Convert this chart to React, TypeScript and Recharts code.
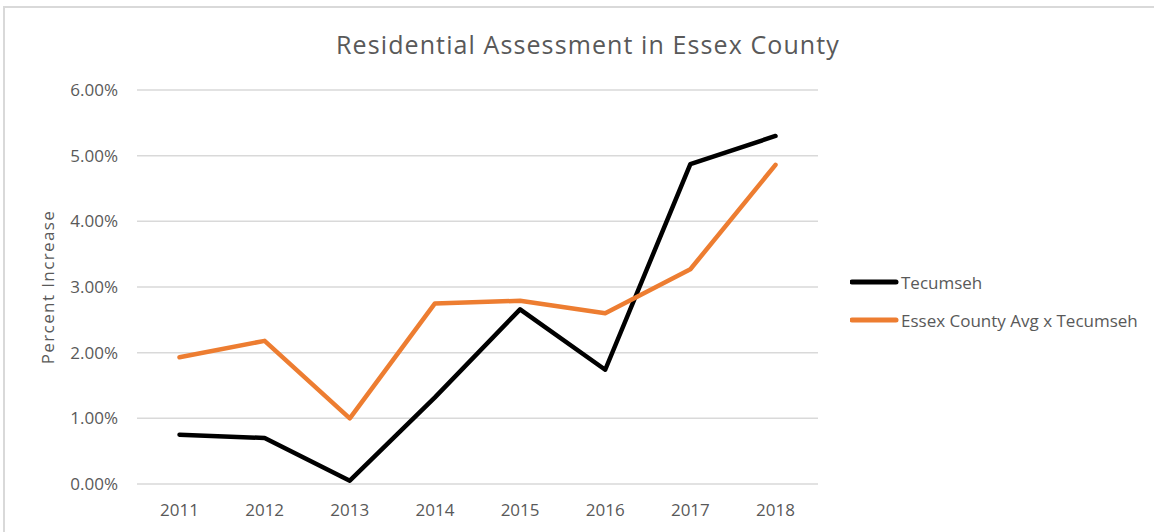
import { LineChart, Line, XAxis, YAxis, CartesianGrid, Legend } from "recharts";

// values (percent)
const years = ["2011", "2012", "2013", "2014", "2015", "2016", "2017", "2018"];
const tecumseh = [0.75, 0.7, 0.05, 1.32, 2.66, 1.74, 4.87, 5.3];
const essexAvg = [1.93, 2.18, 1.0, 2.75, 2.79, 2.6, 3.27, 4.86];
const yTicks = [0, 1, 2, 3, 4, 5, 6];

const chartData = years.map((year, i) => ({
  year,
  tecumseh: tecumseh[i],
  essex: essexAvg[i],
}));

const FONT = "'Open Sans', sans-serif";
const GREY = "#595959";

const seriesInfo = [
  { key: "tecumseh", name: "Tecumseh", color: "#000000" },
  { key: "essex", name: "Essex County Avg x Tecumseh", color: "#ED7D31" },
];

function LegendContent() {
  return (
    <div style={{ fontFamily: FONT, fontSize: 17, color: GREY }}>
      {seriesInfo.map((s) => (
        <div key={s.key} style={{ display: "flex", alignItems: "center", height: 38 }}>
          <svg width={50} height={10} style={{ display: "block" }}>
            <line x1={2} y1={5} x2={46} y2={5} stroke={s.color} strokeWidth={5} strokeLinecap="round" />
          </svg>
          <span style={{ marginLeft: 1 }}>{s.name}</span>
        </div>
      ))}
    </div>
  );
}

function AxisTitle(props: any) {
  const vb = props.viewBox || { x: 0, y: 0, height: 0 };
  const cy = vb.y + vb.height / 2;
  const cx = 47;
  return (
    <text
      x={cx}
      y={cy}
      transform={`rotate(-90, ${cx}, ${cy})`}
      textAnchor="middle"
      dominantBaseline="central"
      fill={GREY}
      style={{ fontFamily: FONT, fontSize: 17, letterSpacing: 1.4 }}
    >
      Percent Increase
    </text>
  );
}

export default function App() {
  return (
    <div style={{ position: "absolute", left: 0, top: 0, width: 1154, height: 532, background: "#fff", overflow: "hidden" }}>
      <div
        style={{
          position: "absolute",
          left: 3,
          top: 6,
          width: 1200,
          height: 600,
          border: "2px solid #d9d9d9",
        }}
      />
      <div
        style={{
          position: "absolute",
          left: 588,
          top: 27,
          transform: "translateX(-50%)",
          whiteSpace: "nowrap",
          fontFamily: FONT,
          fontSize: 25,
          color: GREY,
          letterSpacing: 1.1,
        }}
      >
        Residential Assessment in Essex County
      </div>
      <div style={{ position: "absolute", left: 0, top: 0 }}>
        <LineChart
          width={1154}
          height={532}
          data={chartData}
          margin={{ top: 90, right: 336, bottom: 8, left: 57 }}
        >
          <CartesianGrid vertical={false} stroke="#d9d9d9" strokeWidth={1.5} />
          <XAxis
            dataKey="year"
            height={40}
            padding={{ left: 42.5, right: 42.5 }}
            axisLine={false}
            tickLine={false}
            tickSize={6}
            tickMargin={14}
            tick={{ fill: GREY, fontSize: 17, fontFamily: FONT }}
          />
          <YAxis
            width={80}
            domain={[0, 6]}
            ticks={yTicks}
            axisLine={false}
            tickLine={false}
            tickSize={6}
            tickMargin={13}
            tickFormatter={(v: number) => `${v.toFixed(2)}%`}
            tick={{ fill: GREY, fontSize: 17, fontFamily: FONT }}
            label={<AxisTitle />}
          />
          <Legend
            layout="vertical"
            verticalAlign="middle"
            align="center"
            content={<LegendContent />}
            wrapperStyle={{ left: 850, top: 263, width: 300, right: "auto" }}
          />
          <Line
            type="linear"
            dataKey="tecumseh"
            name="Tecumseh"
            stroke="#000000"
            strokeWidth={4.5}
            strokeLinejoin="round"
            strokeLinecap="round"
            dot={false}
            activeDot={false}
            isAnimationActive={false}
          />
          <Line
            type="linear"
            dataKey="essex"
            name="Essex County Avg x Tecumseh"
            stroke="#ED7D31"
            strokeWidth={4.5}
            strokeLinejoin="round"
            strokeLinecap="round"
            dot={false}
            activeDot={false}
            isAnimationActive={false}
          />
        </LineChart>
      </div>
    </div>
  );
}
